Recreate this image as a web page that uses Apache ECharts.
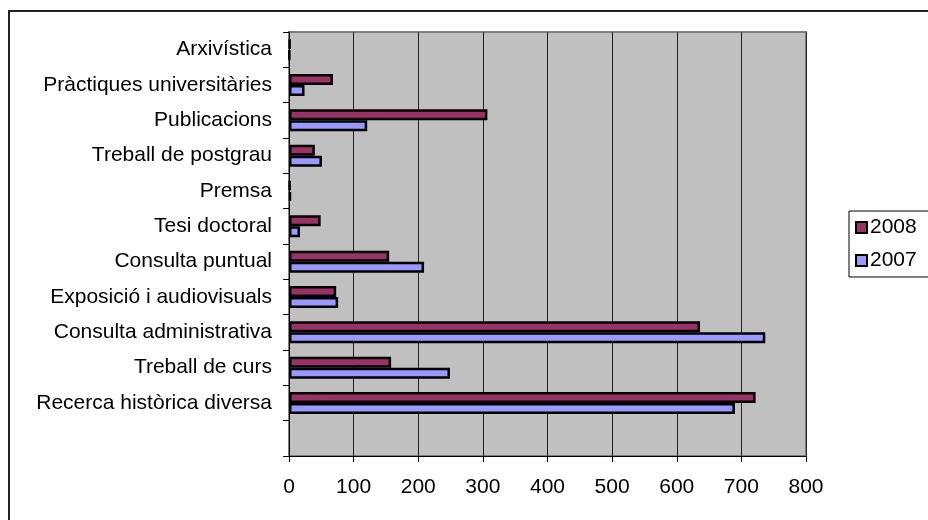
<!DOCTYPE html>
<html>
<head>
<meta charset="utf-8">
<script src="https://cdn.jsdelivr.net/npm/echarts@6/dist/echarts.min.js"></script>
<style>
html,body{margin:0;padding:0;background:#fff;}
#c{width:928px;height:520px;}
</style>
</head>
<body>
<div id="c"></div>
<script>
// Categories listed top to bottom; the final empty slot is the blank band at the bottom
const categories = [
  'Arxivística',
  'Pràctiques universitàries',
  'Publicacions',
  'Treball de postgrau',
  'Premsa',
  'Tesi doctoral',
  'Consulta puntual',
  'Exposició i audiovisuals',
  'Consulta administrativa',
  'Treball de curs',
  'Recerca històrica diversa',
  ''
];
const values2008 = [2, 68, 307, 40, 2, 49, 155, 73, 636, 158, 722, null];
const values2007 = [1, 24, 121, 51, 3, 17, 209, 76, 737, 249, 690, null];
const xTicks = [0, 100, 200, 300, 400, 500, 600, 700, 800];

const FONT = '"Liberation Sans", Arial, sans-serif';
const chart = echarts.init(document.getElementById('c'), null, {renderer: 'canvas'});
chart.setOption({
  animation: false,
  backgroundColor: '#ffffff',
  textStyle: {fontFamily: FONT},
  graphic: [{
    type: 'rect',
    shape: {x: 9, y: 11, width: 1000, height: 600},
    style: {fill: 'none', stroke: '#222', lineWidth: 2},
    z: 0
  }],
  grid: {
    left: 289, right: 122, top: 32, bottom: 64,
    show: true, backgroundColor: '#C0C0C0',
    borderColor: '#808080', borderWidth: 2
  },
  legend: {
    orient: 'vertical',
    left: 849, top: 211,
    padding: [6, 30, 6, 6],
    itemGap: 12,
    itemWidth: 11, itemHeight: 11,
    borderColor: '#000', borderWidth: 1,
    backgroundColor: '#fff',
    textStyle: {fontSize: 21, color: '#000', fontFamily: FONT, padding: [0,0,0,-2]},
    data: [
      {name: '2008', icon: 'rect', itemStyle: {color: '#993366', borderColor: '#000', borderWidth: 2}},
      {name: '2007', icon: 'rect', itemStyle: {color: '#9999FF', borderColor: '#000', borderWidth: 2}}
    ]
  },
  xAxis: {
    type: 'value',
    min: xTicks[0], max: xTicks[xTicks.length - 1], interval: xTicks[1] - xTicks[0],
    axisLine: {show: true, lineStyle: {color: '#000', width: 1}},
    axisTick: {show: true, length: 6, lineStyle: {color: '#000'}},
    axisLabel: {fontSize: 21, color: '#000', margin: 21, fontFamily: FONT},
    splitLine: {show: true, lineStyle: {color: '#222', width: 1}}
  },
  yAxis: {
    type: 'category',
    inverse: true,
    data: categories,
    axisLine: {show: true, lineStyle: {color: '#000', width: 1}},
    axisTick: {show: true, length: 6, interval: 0, lineStyle: {color: '#000'}},
    axisLabel: {fontSize: 21, color: '#000', margin: 17, interval: 0, fontFamily: FONT},
    splitLine: {show: false}
  },
  series: [
    {
      name: '2008', type: 'bar', data: values2008,
      barWidth: 11, barGap: '0%',
      itemStyle: {color: '#993366', borderColor: '#000', borderWidth: 2.5}
    },
    {
      name: '2007', type: 'bar', data: values2007,
      barWidth: 11, barGap: '0%',
      itemStyle: {color: '#9999FF', borderColor: '#000', borderWidth: 2.5}
    }
  ]
});
</script>
</body>
</html>
